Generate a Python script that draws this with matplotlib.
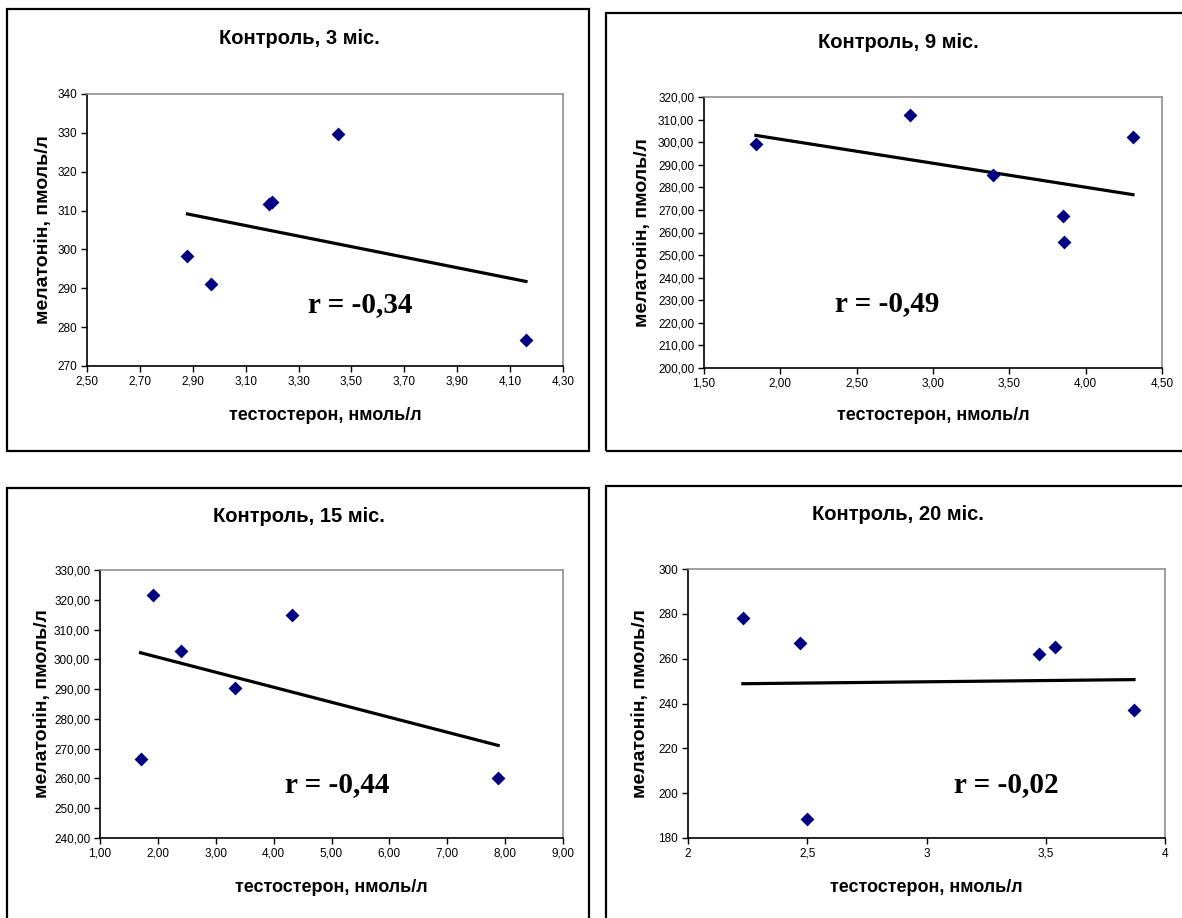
import matplotlib
matplotlib.use('Agg')
import matplotlib.pyplot as plt
from matplotlib.patches import Rectangle
from matplotlib.ticker import FuncFormatter
import numpy as np

# --- data ---
titles = ['Контроль, 3 міс.', 'Контроль, 9 міс.', 'Контроль, 15 міс.', 'Контроль, 20 міс.']
r_labels = ['r = -0,34', 'r = -0,49', 'r = -0,44', 'r = -0,02']

x_3m = [2.88, 2.97, 3.19, 3.20, 3.45, 4.16]
y_3m = [298.3, 291.1, 311.7, 312.2, 329.8, 276.8]

x_9m = [1.84, 2.85, 3.39, 3.85, 3.86, 4.31]
y_9m = [299.1, 312.0, 285.4, 267.3, 255.8, 302.1]

x_15m = [1.70, 1.91, 2.40, 3.34, 4.31, 7.88]
y_15m = [266.5, 321.7, 302.8, 290.4, 314.8, 260.0]

x_20m = [2.23, 2.47, 2.50, 3.47, 3.54, 3.87]
y_20m = [278.0, 267.2, 188.6, 262.3, 265.1, 237.0]

xticks_3m = np.arange(2.5, 4.31, 0.2)
yticks_3m = np.arange(270, 341, 10)
xticks_9m = np.arange(1.5, 4.51, 0.5)
yticks_9m = np.arange(200, 321, 10)
xticks_15m = np.arange(1, 9.1, 1)
yticks_15m = np.arange(240, 331, 10)
xticks_20m = [2, 2.5, 3, 3.5, 4]
yticks_20m = np.arange(180, 301, 20)

W, H = 1182, 918
fig = plt.figure(figsize=(W / 100, H / 100), dpi=100)

sans = 'Liberation Sans'
serif = 'Liberation Serif'


def comma2(v, pos):
    return ('%.2f' % v).replace('.', ',')


def comma0(v, pos):
    return ('%.0f' % v)


def general(v, pos):
    return ('%g' % v).replace('.', ',')


def fig_box(x0, y0, x1, y1):
    """ pixel box (top-left origin) -> figure fraction [l, b, w, h] """
    return [x0 / W, 1 - y1 / H, (x1 - x0) / W, (y1 - y0) / H]


def panel(frame, plot, title, xs, ys, xt, yt, xfmt, yfmt, r_txt, r_pos,
          ylab_x, xlab_y):
    # --- chart frame and title ---
    l, b, w, h = fig_box(*frame)
    fig.patches.append(Rectangle((l, b), w, h, transform=fig.transFigure,
                                 fill=False, lw=1.6, ec='black'))
    fig.text((frame[0] + 292) / W, 1 - (frame[1] + 29) / H, title,
             ha='center', va='center', family=sans, fontweight='bold',
             fontsize=14.5)

    # --- scatter + linear trend ---
    ax = fig.add_axes(fig_box(*plot))
    ax.scatter(xs, ys, marker='D', s=50, color='#000080', zorder=3,
               linewidths=0)
    k, c = np.polyfit(xs, ys, 1)
    xx = np.array([min(xs), max(xs)])
    ax.plot(xx, k * xx + c, color='black', lw=2.3, zorder=2)

    ax.set_xlim(xt[0], xt[-1])
    ax.set_ylim(yt[0], yt[-1])
    ax.set_xticks(xt)
    ax.set_yticks(yt)
    ax.xaxis.set_major_formatter(FuncFormatter(xfmt))
    ax.yaxis.set_major_formatter(FuncFormatter(yfmt))
    ax.tick_params(direction='out', length=4, width=1, labelsize=8.5,
                   pad=3)
    for lab in ax.get_xticklabels() + ax.get_yticklabels():
        lab.set_family(sans)
    for s in ('top', 'right'):
        ax.spines[s].set_color('#909090')
        ax.spines[s].set_linewidth(1.2)
    for s in ('left', 'bottom'):
        ax.spines[s].set_color('black')
        ax.spines[s].set_linewidth(1.2)

    # --- labels ---
    pw = plot[2] - plot[0]
    ph = plot[3] - plot[1]
    ax.set_xlabel('тестостерон, нмоль/л', family=sans, fontweight='bold',
                  fontsize=13)
    ax.xaxis.set_label_coords(0.5, -(xlab_y - plot[3]) / ph)
    ax.set_ylabel('мелатонін, пмоль/л', family=sans, fontweight='bold',
                  fontsize=14)
    ax.yaxis.set_label_coords(-(plot[0] - ylab_x) / pw, 0.5)
    ax.xaxis.label.set_va('center')
    ax.yaxis.label.set_va('center')

    ax.text((r_pos[0] - plot[0]) / pw, (plot[3] - r_pos[1]) / ph, r_txt,
            transform=ax.transAxes, ha='center', va='center', family=serif,
            fontweight='bold', fontsize=21)
    return ax


panel((7, 9, 589, 451), (87, 94, 563, 366), titles[0], x_3m, y_3m,
      xticks_3m, yticks_3m, comma2, comma0, r_labels[0], (360, 305), 44, 416)
panel((606, 13, 1200, 451), (704, 97, 1162, 368), titles[1], x_9m, y_9m,
      xticks_9m, yticks_9m, comma2, comma2, r_labels[1], (887, 304), 642, 416)
panel((7, 488, 589, 940), (100, 570, 563, 838), titles[2], x_15m, y_15m,
      xticks_15m, yticks_15m, comma2, comma2, r_labels[2], (337, 785), 42, 888)
panel((606, 486, 1200, 940), (688, 569, 1165, 838), titles[3], x_20m, y_20m,
      xticks_20m, yticks_20m, general, comma0, r_labels[3], (1006, 785), 641, 888)

fig.savefig('out.png', dpi=100)
